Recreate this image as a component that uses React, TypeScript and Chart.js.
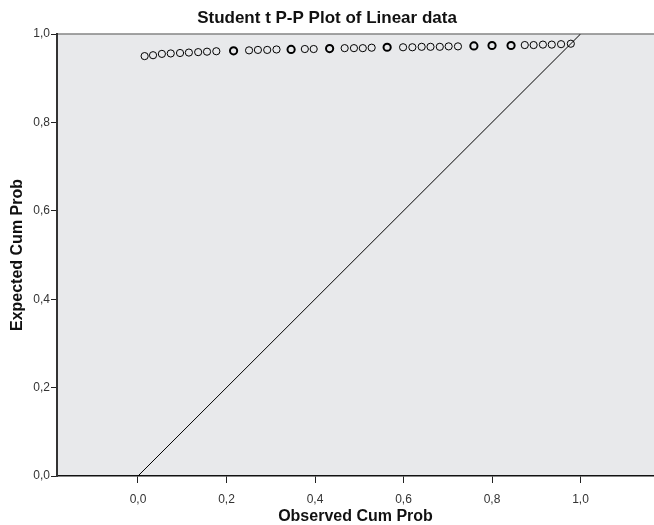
import React, { useEffect, useRef } from "react";
import { Chart, registerables } from "chart.js";

Chart.register(...registerables);

// ---- data ----
const observedCumProb = [
  0.015, 0.034, 0.054, 0.074, 0.095, 0.115, 0.136, 0.156, 0.177, 0.216,
  0.251, 0.271, 0.292, 0.313, 0.346, 0.377, 0.397, 0.433, 0.467, 0.488,
  0.508, 0.528, 0.563, 0.599, 0.62, 0.641, 0.661, 0.682, 0.702, 0.723,
  0.759, 0.8, 0.843, 0.874, 0.894, 0.915, 0.935, 0.956, 0.978,
];
const expectedCumProb = [
  0.95, 0.952, 0.955, 0.956, 0.957, 0.958, 0.959, 0.96, 0.961, 0.962,
  0.963, 0.964, 0.964, 0.965, 0.965, 0.966, 0.966, 0.967, 0.968, 0.968,
  0.968, 0.969, 0.97, 0.97, 0.97, 0.971, 0.971, 0.971, 0.972, 0.972,
  0.973, 0.974, 0.974, 0.975, 0.975, 0.976, 0.976, 0.977, 0.978,
];
const tieCount = [
  1, 1, 1, 1, 1, 1, 1, 1, 1, 2,
  1, 1, 1, 1, 2, 1, 1, 2, 1, 1,
  1, 1, 2, 1, 1, 1, 1, 1, 1, 1,
  2, 2, 2, 1, 1, 1, 1, 1, 1,
];
const referenceLine = [0, 1];
const tickValues = [0, 0.2, 0.4, 0.6, 0.8, 1.0];
const xRange = [-0.183, 1.166];
const yRange = [0, 1];
const titleText = "Student t P-P Plot of Linear data";
const xTitle = "Observed Cum Prob";
const yTitle = "Expected Cum Prob";

const FONT = '"Liberation Sans", Arial, Helvetica, sans-serif';
const fmt = (v: number) => Number(v).toFixed(1).replace(".", ",");

const backgroundPlugin = {
  id: "plotBg",
  beforeDraw(chart: any) {
    const { ctx, chartArea } = chart;
    if (!chartArea) return;
    ctx.save();
    ctx.fillStyle = "#e8e9eb";
    ctx.fillRect(chartArea.left, chartArea.top, chartArea.right - chartArea.left, chartArea.bottom - chartArea.top);
    ctx.strokeStyle = "#858585";
    ctx.lineWidth = 1.5;
    ctx.beginPath();
    ctx.moveTo(chartArea.left, chartArea.top);
    ctx.lineTo(chartArea.right, chartArea.top);
    ctx.stroke();
    ctx.restore();
  },
};

const titlePlugin = {
  id: "ppTitle",
  afterDraw(chart: any) {
    const { ctx } = chart;
    ctx.save();
    ctx.font = `bold 17px ${FONT}`;
    ctx.fillStyle = "#111";
    ctx.textAlign = "center";
    ctx.textBaseline = "middle";
    ctx.fillText(titleText, chart.width / 2, 18);
    ctx.restore();
  },
};

export default function App() {
  const ref = useRef<HTMLCanvasElement | null>(null);

  useEffect(() => {
    if (!ref.current) return;
    const points = observedCumProb.map((x, i) => ({ x, y: expectedCumProb[i] }));
    const chart = new Chart(ref.current, {
      type: "scatter",
      data: {
        datasets: [
          {
            type: "line",
            data: referenceLine.map((v) => ({ x: v, y: v })),
            borderColor: "#000",
            borderWidth: 1,
            pointRadius: 0,
            fill: false,
          } as any,
          {
            type: "scatter",
            data: points,
            pointStyle: "circle",
            pointRadius: 3.6,
            pointBackgroundColor: "rgba(0,0,0,0)",
            pointBorderColor: "#000",
            pointBorderWidth: tieCount.map((t) => (t > 1 ? 2 : 1)),
          } as any,
        ],
      },
      options: {
        animation: false,
        responsive: false,
        layout: { autoPadding: false, padding: { top: 34, left: 0, right: 0, bottom: 0 } },
        plugins: {
          legend: { display: false },
          tooltip: { enabled: false },
          title: { display: false },
        },
        scales: {
          x: {
            type: "linear",
            min: xRange[0],
            max: xRange[1],
            afterBuildTicks: (s: any) => {
              s.ticks = tickValues.map((v) => ({ value: v }));
            },
            afterFit: (s: any) => {
              s.height = 49;
              s.paddingLeft = 0;
              s.paddingRight = 0;
            },
            ticks: {
              callback: (v: any) => fmt(v),
              font: { family: FONT, size: 12 },
              color: "#333",
              padding: 9,
              maxRotation: 0,
              autoSkip: false,
            },
            grid: { drawOnChartArea: false, drawTicks: true, tickLength: 7, color: "#222", lineWidth: 1 },
            border: { display: true, color: "#111", width: 1.5 },
            title: {
              display: true,
              text: xTitle,
              font: { family: FONT, size: 16, weight: "bold" },
              color: "#111",
              padding: { top: 0, bottom: -1.5 },
            },
          },
          y: {
            type: "linear",
            min: yRange[0],
            max: yRange[1],
            afterBuildTicks: (s: any) => {
              s.ticks = tickValues.map((v) => ({ value: v }));
            },
            afterFit: (s: any) => {
              s.width = 57;
              s.paddingTop = 0;
              s.paddingBottom = 0;
            },
            ticks: {
              callback: (v: any) => fmt(v),
              font: { family: FONT, size: 12 },
              color: "#333",
              padding: 1,
              autoSkip: false,
            },
            grid: { drawOnChartArea: false, drawTicks: true, tickLength: 6, color: "#222", lineWidth: 1 },
            border: { display: true, color: "#333", width: 2 },
            title: {
              display: true,
              text: yTitle,
              font: { family: FONT, size: 16, weight: "bold" },
              color: "#111",
              padding: { top: 8, bottom: 0 },
            },
          },
        },
      } as any,
      plugins: [backgroundPlugin, titlePlugin],
    });
    return () => chart.destroy();
  }, []);

  return (
    <div style={{ position: "fixed", left: 0, top: 0, width: 654, height: 525, background: "#fff" }}>
      <canvas ref={ref} width={654} height={525} style={{ display: "block" }} />
    </div>
  );
}
